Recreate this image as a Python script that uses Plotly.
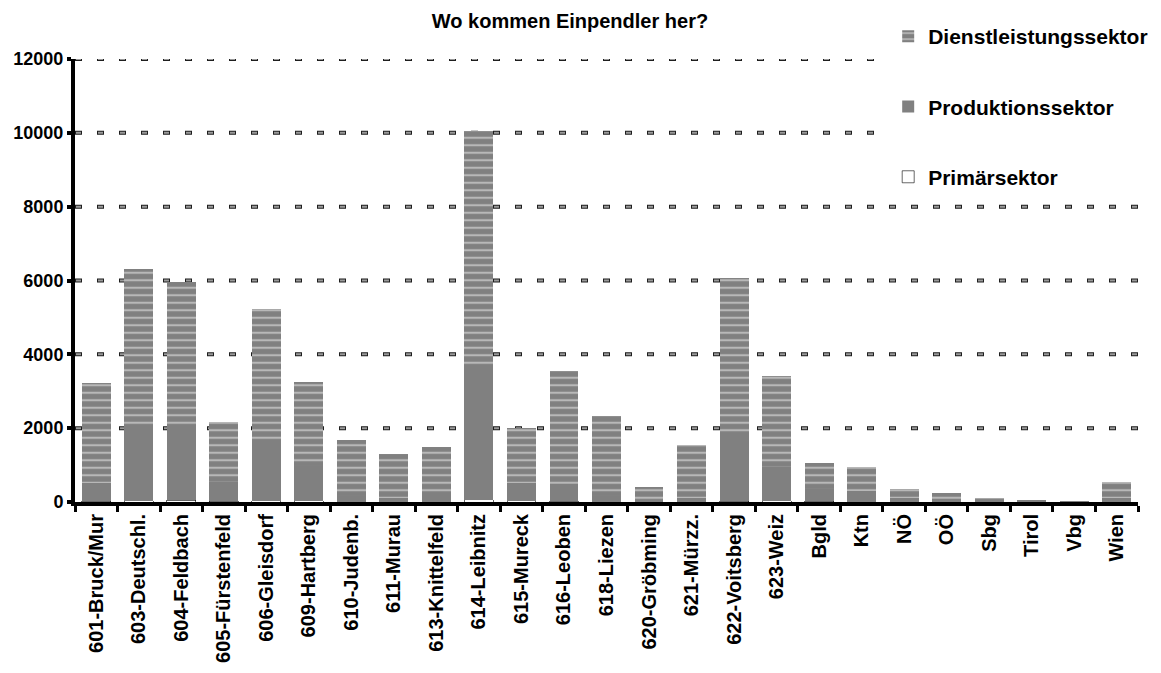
import plotly.graph_objects as go

categories = ["601-Bruck/Mur", "603-Deutschl.", "604-Feldbach", "605-Fürstenfeld", "606-Gleisdorf",
              "609-Hartberg", "610-Judenb.", "611-Murau", "613-Knittelfeld", "614-Leibnitz",
              "615-Mureck", "616-Leoben", "618-Liezen", "620-Gröbming", "621-Mürzz.",
              "622-Voitsberg", "623-Weiz", "Bgld", "Ktn", "NÖ", "OÖ", "Sbg", "Tirol", "Vbg", "Wien"]

primaer = [20, 40, 50, 25, 30, 40, 10, 10, 10, 60, 30, 15, 10, 5, 5, 20, 30, 20, 10, 5, 3, 2, 1, 1, 3]
produktion = [486, 1980, 1980, 514, 1580, 923, 150, 100, 240, 3663, 486, 486, 150, 60, 100,
              1836, 923, 333, 287, 100, 80, 70, 40, 8, 104]
dienst = [2724, 4290, 3920, 1641, 3630, 2277, 1520, 1200, 1240, 6327, 1484, 3049, 2180, 335, 1440,
          4199, 2452, 707, 648, 245, 149, 33, 9, 3, 428]

y_ticks = [0, 2000, 4000, 6000, 8000, 10000, 12000]

FONT = "Liberation Sans, Arial, sans-serif"
OFF = 8  # page body margin of the html page
W, H = 1161 - OFF, 673 - OFF

fig = go.Figure()
fig.add_trace(go.Bar(
    x=categories, y=primaer, name="Primärsektor", legendgroup="c", legendrank=3,
    marker=dict(color="white", line=dict(color="black", width=0.6)),
))
fig.add_trace(go.Bar(
    x=categories, y=produktion, name="Produktionssektor", legendgroup="b", legendrank=2,
    marker=dict(color="#808080", line=dict(width=0)),
))
fig.add_trace(go.Bar(
    x=categories, y=dienst, name="Dienstleistungssektor", legendgroup="a", legendrank=1,
    marker=dict(color="#808080", line=dict(width=0),
                pattern=dict(shape="-", bgcolor="#808080", fgcolor="#f0f0f0",
                             size=7.5, solidity=0.28)),
))

# grid dashes: dark outlined grey rectangles
for v in y_ticks[1:]:
    fig.add_shape(type="line", xref="paper", x0=0, x1=1, yref="y", y0=v, y1=v,
                  line=dict(color="#1e1e1e", width=4, dash="7px,15px"),
                  layer="below")
    fig.add_shape(type="line", xref="paper", x0=0, x1=1, yref="y", y0=v, y1=v,
                  line=dict(color="#9a9a9a", width=2, dash="0px,1px,5px,16px"),
                  layer="below")

fig.update_layout(
    width=W, height=H,
    barmode="stack", bargap=0.32,
    paper_bgcolor="white", plot_bgcolor="white",
    margin=dict(l=75 - OFF, r=23, t=59 - OFF, b=171, autoexpand=False),
    font=dict(family=FONT, color="black", size=16),
    title=dict(text="<b>Wo kommen Einpendler her?</b>", font=dict(size=20, family=FONT),
               x=(570 - OFF) / W, xanchor="center", xref="container",
               y=1 - (21 - OFF) / H, yanchor="middle", yref="container"),
    legend=dict(traceorder="grouped", tracegroupgap=40,
                x=0.765, xanchor="left", y=1.097, yanchor="top",
                bgcolor="white", font=dict(size=21, family=FONT, weight="bold"),
                itemclick=False),
    showlegend=True,
)
fig.update_yaxes(
    range=[0, 12000], tickvals=y_ticks, ticktext=[str(v) for v in y_ticks],
    showgrid=False,
    showline=True, linecolor="black", linewidth=4,
    ticks="outside", ticklen=4, tickwidth=4, tickcolor="black",
    tickfont=dict(size=18, family=FONT, weight="bold"),
    zeroline=False,
)
fig.update_xaxes(
    tickangle=-90, showline=True, linecolor="black", linewidth=4,
    ticks="outside", tickson="boundaries", ticklen=6, tickwidth=3, tickcolor="black",
    tickfont=dict(size=20, family=FONT, weight="bold"),
    showgrid=False,
)

fig.write_html("out.html")
